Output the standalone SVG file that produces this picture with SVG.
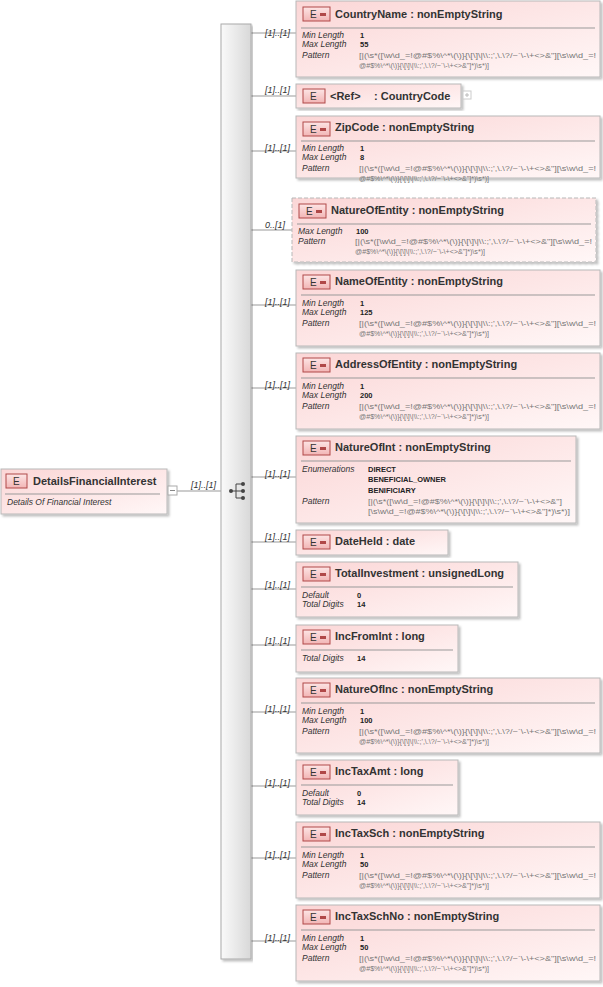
<svg xmlns="http://www.w3.org/2000/svg" width="603" height="987" viewBox="0 0 603 987">
<defs>
<linearGradient id="bg" x1="0" y1="0" x2="1" y2="1"><stop offset="0" stop-color="#fbd6d6"/><stop offset="1" stop-color="#fff7f7"/></linearGradient>
<linearGradient id="ic" x1="0" y1="0" x2="0" y2="1"><stop offset="0" stop-color="#fde5e5"/><stop offset="1" stop-color="#f2b5b5"/></linearGradient>
<linearGradient id="seq" x1="0" y1="0" x2="1" y2="0"><stop offset="0" stop-color="#fafafa"/><stop offset="1" stop-color="#d8d8d8"/></linearGradient>
<filter id="sh" x="-5%" y="-5%" width="110%" height="115%"><feDropShadow dx="2" dy="2" stdDeviation="1" flood-color="#000" flood-opacity="0.25"/></filter>
<g id="eicon"><rect x="0" y="0" width="27" height="14" fill="url(#ic)" stroke="#b04848"/><text x="7" y="11" class="ie">E</text><rect x="17" y="6" width="6" height="3" fill="#b04848"/></g>
</defs>
<style>
text{font-family:"Liberation Sans",Arial,sans-serif}
.box{fill:url(#bg);stroke:#b8b8b8;stroke-width:1;filter:url(#sh)}
.dash{stroke-dasharray:4,2}
.t{font-size:11px;font-weight:bold;fill:#333}
.ie{font-size:10px;fill:#333}
.k{font-size:8.5px;font-style:italic;fill:#333}
.v{font-size:7.5px;font-weight:bold;fill:#222}
.p{font-size:7.5px;fill:#777}
.hl{stroke:#999;stroke-width:1}
.c{stroke:#999;stroke-width:1;fill:none}
.m{font-size:9px;font-style:italic;fill:#333}
</style>

<g id="connectors">
<line class="c" x1="177" y1="491" x2="221" y2="491"/>
<text class="m" x="191" y="488">[1]..[1]</text>
<line class="c" x1="251" y1="33" x2="296" y2="33"/><text class="m" x="265" y="36">[1]..[1]</text>
<line class="c" x1="251" y1="96" x2="296" y2="96"/><text class="m" x="265" y="93">[1]..[1]</text>
<line class="c" x1="251" y1="151" x2="296" y2="151"/><text class="m" x="265" y="151">[1]..[1]</text>
<line class="c" x1="251" y1="230" x2="292" y2="230"/><text class="m" x="265" y="228">0..[1]</text>
<line class="c" x1="251" y1="305" x2="296" y2="305"/><text class="m" x="265" y="305">[1]..[1]</text>
<line class="c" x1="251" y1="388" x2="296" y2="388"/><text class="m" x="265" y="388">[1]..[1]</text>
<line class="c" x1="251" y1="477" x2="296" y2="477"/><text class="m" x="265" y="477">[1]..[1]</text>
<line class="c" x1="251" y1="542" x2="296" y2="542"/><text class="m" x="265" y="540">[1]..[1]</text>
<line class="c" x1="251" y1="589" x2="296" y2="589"/><text class="m" x="265" y="588">[1]..[1]</text>
<line class="c" x1="251" y1="645" x2="296" y2="645"/><text class="m" x="265" y="644">[1]..[1]</text>
<line class="c" x1="251" y1="712" x2="296" y2="712"/><text class="m" x="265" y="712">[1]..[1]</text>
<line class="c" x1="251" y1="786" x2="296" y2="786"/><text class="m" x="265" y="786">[1]..[1]</text>
<line class="c" x1="251" y1="858" x2="296" y2="858"/><text class="m" x="265" y="858">[1]..[1]</text>
<line class="c" x1="251" y1="941" x2="296" y2="941"/><text class="m" x="265" y="941">[1]..[1]</text>
</g>

<g id="DetailsFinancialInterest">
<rect class="box" x="1" y="469" width="166" height="45"/>
<rect x="6" y="474" width="21" height="14" fill="url(#ic)" stroke="#b04848"/><text x="13" y="485" class="ie">E</text>
<text class="t" x="33" y="485">DetailsFinancialInterest</text>
<line class="hl" x1="5" y1="494" x2="160" y2="494"/>
<text class="k" x="7" y="505">Details Of Financial Interest</text>
<rect x="168" y="486" width="9" height="9" fill="#fff" stroke="#aaa"/><line x1="170" y1="490.5" x2="175" y2="490.5" stroke="#888"/>
</g>

<g id="sequence">
<rect x="221" y="24" width="30" height="935" fill="url(#seq)" stroke="#aaa" filter="url(#sh)"/>
<circle cx="231" cy="491" r="2" fill="#444"/>
<line x1="231" y1="491" x2="236" y2="491" stroke="#444"/>
<path d="M236 484 V498 M236 484 H242 M236 491 H242 M236 498 H242" stroke="#444" fill="none"/>
<circle cx="243" cy="484" r="2" fill="#444"/><circle cx="243" cy="491" r="2" fill="#444"/><circle cx="243" cy="498" r="2" fill="#444"/>
</g>

<g id="CountryName" transform="translate(296,1)">
<rect class="box" x="0" y="0" width="304" height="76"/><use href="#eicon" x="7" y="6"/>
<text class="t" x="39" y="17">CountryName : nonEmptyString</text><line class="hl" x1="5" y1="27" x2="299" y2="27"/>
<text class="k" x="6" y="37">Min Length</text><text class="v" x="64" y="37">1</text>
<text class="k" x="6" y="46">Max Length</text><text class="v" x="64" y="46">55</text>
<text class="k" x="6" y="57">Pattern</text>
<text class="p" x="63" y="57" textLength="237" lengthAdjust="spacingAndGlyphs">[|(\s*([\w\d_=!@#$%\^*\(\)}{\[\]\|\\:;',\.\?/~`\-\+&lt;&gt;&amp;"][\s\w\d_=!</text>
<text class="p" x="63" y="67" textLength="130" lengthAdjust="spacingAndGlyphs">@#$%\^*\(\)}{\[\]\|\\:;',\.\?/~`\-\+&lt;&gt;&amp;"]*)\s*)]</text>
</g>

<g id="CountryCode" transform="translate(296,84)">
<rect class="box" x="0" y="0" width="165" height="24"/>
<rect x="7" y="5" width="22" height="14" fill="url(#ic)" stroke="#b04848"/><text x="14" y="16" class="ie">E</text>
<text class="t" x="34" y="16">&lt;Ref&gt;</text><text class="t" x="78" y="16">: CountryCode</text>
<rect x="167" y="7" width="8" height="8" fill="#fff" stroke="#ccc"/><path d="M169 11H173M171 9V13" stroke="#bbb"/>
</g>

<g id="ZipCode" transform="translate(296,116)">
<rect class="box" x="0" y="0" width="304" height="62"/><use href="#eicon" x="7" y="6"/>
<text class="t" x="39" y="15">ZipCode : nonEmptyString</text><line class="hl" x1="5" y1="25" x2="299" y2="25"/>
<text class="k" x="6" y="35">Min Length</text><text class="v" x="64" y="35">1</text>
<text class="k" x="6" y="44">Max Length</text><text class="v" x="64" y="44">8</text>
<text class="k" x="6" y="55">Pattern</text>
<text class="p" x="63" y="55" textLength="237" lengthAdjust="spacingAndGlyphs">[|(\s*([\w\d_=!@#$%\^*\(\)}{\[\]\|\\:;',\.\?/~`\-\+&lt;&gt;&amp;"][\s\w\d_=!</text>
<text class="p" x="63" y="65" textLength="130" lengthAdjust="spacingAndGlyphs">@#$%\^*\(\)}{\[\]\|\\:;',\.\?/~`\-\+&lt;&gt;&amp;"]*)\s*)]</text>
</g>

<g id="NatureOfEntity" transform="translate(292,198)">
<rect class="box dash" x="0" y="0" width="304" height="64"/><use href="#eicon" x="7" y="6"/>
<text class="t" x="39" y="16">NatureOfEntity : nonEmptyString</text><line class="hl" x1="5" y1="26" x2="299" y2="26"/>
<text class="k" x="6" y="36">Max Length</text><text class="v" x="64" y="36">100</text>
<text class="k" x="6" y="46">Pattern</text>
<text class="p" x="63" y="46" textLength="237" lengthAdjust="spacingAndGlyphs">[|(\s*([\w\d_=!@#$%\^*\(\)}{\[\]\|\\:;',\.\?/~`\-\+&lt;&gt;&amp;"][\s\w\d_=!</text>
<text class="p" x="63" y="56" textLength="130" lengthAdjust="spacingAndGlyphs">@#$%\^*\(\)}{\[\]\|\\:;',\.\?/~`\-\+&lt;&gt;&amp;"]*)\s*)]</text>
</g>

<g id="NameOfEntity" transform="translate(296,270)">
<rect class="box" x="0" y="0" width="304" height="76"/><use href="#eicon" x="7" y="5"/>
<text class="t" x="39" y="15">NameOfEntity : nonEmptyString</text><line class="hl" x1="5" y1="25" x2="299" y2="25"/>
<text class="k" x="6" y="36">Min Length</text><text class="v" x="64" y="36">1</text>
<text class="k" x="6" y="45">Max Length</text><text class="v" x="64" y="45">125</text>
<text class="k" x="6" y="56">Pattern</text>
<text class="p" x="63" y="56" textLength="237" lengthAdjust="spacingAndGlyphs">[|(\s*([\w\d_=!@#$%\^*\(\)}{\[\]\|\\:;',\.\?/~`\-\+&lt;&gt;&amp;"][\s\w\d_=!</text>
<text class="p" x="63" y="66" textLength="130" lengthAdjust="spacingAndGlyphs">@#$%\^*\(\)}{\[\]\|\\:;',\.\?/~`\-\+&lt;&gt;&amp;"]*)\s*)]</text>
</g>

<g id="AddressOfEntity" transform="translate(296,353)">
<rect class="box" x="0" y="0" width="304" height="76"/><use href="#eicon" x="7" y="5"/>
<text class="t" x="39" y="15">AddressOfEntity : nonEmptyString</text><line class="hl" x1="5" y1="25" x2="299" y2="25"/>
<text class="k" x="6" y="36">Min Length</text><text class="v" x="64" y="36">1</text>
<text class="k" x="6" y="45">Max Length</text><text class="v" x="64" y="45">200</text>
<text class="k" x="6" y="56">Pattern</text>
<text class="p" x="63" y="56" textLength="237" lengthAdjust="spacingAndGlyphs">[|(\s*([\w\d_=!@#$%\^*\(\)}{\[\]\|\\:;',\.\?/~`\-\+&lt;&gt;&amp;"][\s\w\d_=!</text>
<text class="p" x="63" y="66" textLength="130" lengthAdjust="spacingAndGlyphs">@#$%\^*\(\)}{\[\]\|\\:;',\.\?/~`\-\+&lt;&gt;&amp;"]*)\s*)]</text>
</g>

<g id="NatureOfInt" transform="translate(296,436)">
<rect class="box" x="0" y="0" width="280" height="87"/><use href="#eicon" x="7" y="5"/>
<text class="t" x="39" y="15">NatureOfInt : nonEmptyString</text><line class="hl" x1="5" y1="25" x2="275" y2="25"/>
<text class="k" x="6" y="36">Enumerations</text>
<text class="v" x="72" y="36">DIRECT</text><text class="v" x="72" y="46">BENEFICIAL_OWNER</text><text class="v" x="72" y="57">BENIFICIARY</text>
<text class="k" x="6" y="68">Pattern</text>
<text class="p" x="72" y="68" textLength="194" lengthAdjust="spacingAndGlyphs">[|(\s*([\w\d_=!@#$%\^*\(\)}{\[\]\|\\:;',\.\?/~`\-\+&lt;&gt;&amp;"]</text>
<text class="p" x="72" y="78" textLength="202" lengthAdjust="spacingAndGlyphs">[\s\w\d_=!@#$%\^*\(\)}{\[\]\|\\:;',\.\?/~`\-\+&lt;&gt;&amp;"]*)\s*)]</text>
</g>

<g id="DateHeld" transform="translate(296,530)">
<rect class="box" x="0" y="0" width="152" height="25"/><use href="#eicon" x="7" y="5"/>
<text class="t" x="39" y="15">DateHeld : date</text>
</g>

<g id="TotalInvestment" transform="translate(296,562)">
<rect class="box" x="0" y="0" width="222" height="55"/><use href="#eicon" x="7" y="5"/>
<text class="t" x="39" y="15">TotalInvestment : unsignedLong</text><line class="hl" x1="5" y1="25" x2="217" y2="25"/>
<text class="k" x="6" y="36">Default</text><text class="v" x="61" y="36">0</text>
<text class="k" x="6" y="45">Total Digits</text><text class="v" x="61" y="45">14</text>
</g>

<g id="IncFromInt" transform="translate(296,625)">
<rect class="box" x="0" y="0" width="162" height="47"/><use href="#eicon" x="7" y="5"/>
<text class="t" x="39" y="15">IncFromInt : long</text><line class="hl" x1="5" y1="25" x2="157" y2="25"/>
<text class="k" x="6" y="36">Total Digits</text><text class="v" x="61" y="36">14</text>
</g>

<g id="NatureOfInc" transform="translate(296,678)">
<rect class="box" x="0" y="0" width="304" height="75"/><use href="#eicon" x="7" y="5"/>
<text class="t" x="39" y="15">NatureOfInc : nonEmptyString</text><line class="hl" x1="5" y1="25" x2="299" y2="25"/>
<text class="k" x="6" y="36">Min Length</text><text class="v" x="64" y="36">1</text>
<text class="k" x="6" y="45">Max Length</text><text class="v" x="64" y="45">100</text>
<text class="k" x="6" y="56">Pattern</text>
<text class="p" x="63" y="56" textLength="237" lengthAdjust="spacingAndGlyphs">[|(\s*([\w\d_=!@#$%\^*\(\)}{\[\]\|\\:;',\.\?/~`\-\+&lt;&gt;&amp;"][\s\w\d_=!</text>
<text class="p" x="63" y="66" textLength="130" lengthAdjust="spacingAndGlyphs">@#$%\^*\(\)}{\[\]\|\\:;',\.\?/~`\-\+&lt;&gt;&amp;"]*)\s*)]</text>
</g>

<g id="IncTaxAmt" transform="translate(296,760)">
<rect class="box" x="0" y="0" width="162" height="55"/><use href="#eicon" x="7" y="5"/>
<text class="t" x="39" y="15">IncTaxAmt : long</text><line class="hl" x1="5" y1="25" x2="157" y2="25"/>
<text class="k" x="6" y="36">Default</text><text class="v" x="61" y="36">0</text>
<text class="k" x="6" y="45">Total Digits</text><text class="v" x="61" y="45">14</text>
</g>

<g id="IncTaxSch" transform="translate(296,822)">
<rect class="box" x="0" y="0" width="304" height="76"/><use href="#eicon" x="7" y="5"/>
<text class="t" x="39" y="15">IncTaxSch : nonEmptyString</text><line class="hl" x1="5" y1="25" x2="299" y2="25"/>
<text class="k" x="6" y="36">Min Length</text><text class="v" x="64" y="36">1</text>
<text class="k" x="6" y="45">Max Length</text><text class="v" x="64" y="45">50</text>
<text class="k" x="6" y="56">Pattern</text>
<text class="p" x="63" y="56" textLength="237" lengthAdjust="spacingAndGlyphs">[|(\s*([\w\d_=!@#$%\^*\(\)}{\[\]\|\\:;',\.\?/~`\-\+&lt;&gt;&amp;"][\s\w\d_=!</text>
<text class="p" x="63" y="66" textLength="130" lengthAdjust="spacingAndGlyphs">@#$%\^*\(\)}{\[\]\|\\:;',\.\?/~`\-\+&lt;&gt;&amp;"]*)\s*)]</text>
</g>

<g id="IncTaxSchNo" transform="translate(296,905)">
<rect class="box" x="0" y="0" width="304" height="76"/><use href="#eicon" x="7" y="5"/>
<text class="t" x="39" y="15">IncTaxSchNo : nonEmptyString</text><line class="hl" x1="5" y1="25" x2="299" y2="25"/>
<text class="k" x="6" y="36">Min Length</text><text class="v" x="64" y="36">1</text>
<text class="k" x="6" y="45">Max Length</text><text class="v" x="64" y="45">50</text>
<text class="k" x="6" y="56">Pattern</text>
<text class="p" x="63" y="56" textLength="237" lengthAdjust="spacingAndGlyphs">[|(\s*([\w\d_=!@#$%\^*\(\)}{\[\]\|\\:;',\.\?/~`\-\+&lt;&gt;&amp;"][\s\w\d_=!</text>
<text class="p" x="63" y="66" textLength="130" lengthAdjust="spacingAndGlyphs">@#$%\^*\(\)}{\[\]\|\\:;',\.\?/~`\-\+&lt;&gt;&amp;"]*)\s*)]</text>
</g>
</svg>
